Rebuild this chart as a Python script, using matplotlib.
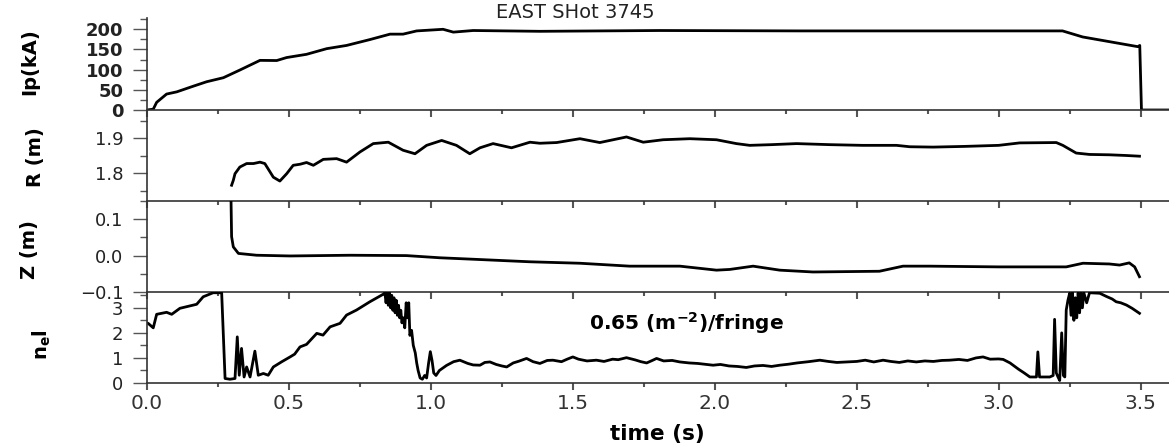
import matplotlib
matplotlib.use("Agg")
import matplotlib.pyplot as plt
from matplotlib.ticker import MultipleLocator

plt.rcParams['font.family'] = ['DejaVu Sans']

# ---------------- data ----------------
ip_t = [0.0, 0.022, 0.034, 0.069, 0.105, 0.163, 0.21, 0.269, 0.327, 0.398, 0.457, 0.492,
        0.562, 0.633, 0.703, 0.785, 0.856, 0.902, 0.95, 1.043, 1.079, 1.149, 1.384, 1.806,
        2.30, 3.0, 3.225, 3.296, 3.49, 3.497, 3.503, 3.6]
ip_v = [0, 2, 19, 39.5, 45, 59, 70, 80, 99, 123, 122.6, 130,
        138, 152, 160, 174.5, 188, 188, 196, 200, 193, 197, 195, 197,
        196, 196, 196, 181, 157, 160, 0, 0]

r_t = [0.298, 0.304, 0.31, 0.327, 0.351, 0.375, 0.398, 0.415, 0.445, 0.468, 0.492, 0.515,
       0.539, 0.562, 0.586, 0.621, 0.668, 0.703, 0.75, 0.797, 0.85, 0.902, 0.944, 0.985,
       1.038, 1.09, 1.137, 1.173, 1.219, 1.284, 1.349, 1.384, 1.443, 1.525, 1.595, 1.689,
       1.748, 1.818, 1.912, 2.006, 2.076, 2.123, 2.20, 2.288, 2.405, 2.52, 2.64, 2.687,
       2.769, 2.88, 3.0, 3.074, 3.203, 3.226, 3.273, 3.32, 3.39, 3.45, 3.496]
r_v = [1.766, 1.78, 1.799, 1.818, 1.828, 1.828, 1.832, 1.828, 1.789, 1.778, 1.799, 1.823,
       1.826, 1.831, 1.823, 1.84, 1.842, 1.832, 1.861, 1.885, 1.889, 1.866, 1.856, 1.88,
       1.894, 1.88, 1.856, 1.873, 1.885, 1.873, 1.889, 1.886, 1.888, 1.899, 1.888, 1.904,
       1.889, 1.896, 1.899, 1.896, 1.885, 1.88, 1.882, 1.885, 1.882, 1.88, 1.88, 1.876,
       1.875, 1.877, 1.88, 1.887, 1.888, 1.88, 1.858, 1.854, 1.853, 1.851, 1.849]

z_t = [0.295, 0.298, 0.304, 0.322, 0.386, 0.504, 0.715, 0.914, 1.032, 1.149, 1.349, 1.525,
       1.70, 1.877, 2.006, 2.053, 2.135, 2.229, 2.346, 2.58, 2.663, 2.757, 3.0, 3.238,
       3.297, 3.39, 3.426, 3.46, 3.479, 3.496]
z_v = [0.2, 0.052, 0.024, 0.006, 0.001, -0.001, 0.001, 0.0, -0.006, -0.01, -0.017, -0.021,
       -0.029, -0.029, -0.04, -0.038, -0.029, -0.04, -0.045, -0.043, -0.029, -0.029, -0.031, -0.031,
       -0.021, -0.023, -0.026, -0.02, -0.031, -0.058]

ne_t = [0.0, 0.005, 0.022, 0.034, 0.069, 0.087, 0.116, 0.175, 0.198, 0.233, 0.263, 0.275,
        0.292, 0.31, 0.318, 0.325, 0.333, 0.342, 0.351, 0.363, 0.38, 0.392, 0.41, 0.427,
        0.445, 0.475, 0.504, 0.52, 0.539, 0.562, 0.598, 0.62, 0.645, 0.68, 0.703, 0.738,
        0.785, 0.832,
        0.838, 0.842, 0.846, 0.850, 0.854, 0.858, 0.862, 0.866, 0.870, 0.874, 0.878, 0.882,
        0.886, 0.890, 0.894, 0.898, 0.903, 0.908, 0.913, 0.918, 0.922, 0.926, 0.932, 0.938,
        0.945, 0.950, 0.955, 0.962, 0.970, 0.978, 0.985, 0.992, 0.998, 1.004, 1.010, 1.018,
        1.030, 1.055, 1.08,
        1.102, 1.13, 1.149, 1.173, 1.19, 1.208, 1.23, 1.25, 1.267, 1.29, 1.31, 1.337,
        1.36, 1.384, 1.41, 1.43, 1.46, 1.48, 1.50, 1.52, 1.55, 1.583, 1.61, 1.64,
        1.66, 1.689, 1.72, 1.74, 1.76, 1.78, 1.795, 1.82, 1.85, 1.877, 1.91, 1.94,
        1.97, 1.994, 2.02, 2.05, 2.08, 2.111, 2.14, 2.17, 2.20, 2.229, 2.26, 2.29,
        2.33, 2.37, 2.40, 2.43, 2.464, 2.50, 2.53, 2.56, 2.593, 2.62, 2.65, 2.68,
        2.71, 2.74, 2.77, 2.80, 2.827, 2.86, 2.89, 2.92, 2.945, 2.97, 3.0, 3.016,
        3.04, 3.07, 3.09, 3.11, 3.133, 3.138, 3.144, 3.15, 3.18, 3.192, 3.197, 3.203,
        3.209, 3.215, 3.222, 3.228, 3.233, 3.238, 3.244, 3.25, 3.255, 3.26, 3.265, 3.27,
        3.275, 3.28, 3.285, 3.29, 3.295, 3.30, 3.31, 3.32, 3.356, 3.38, 3.40, 3.414,
        3.43, 3.45, 3.47, 3.496]
ne_v = [2.4, 2.37, 2.2, 2.74, 2.82, 2.74, 2.98, 3.14, 3.44, 3.6, 3.6, 0.18,
        0.15, 0.18, 1.84, 0.31, 1.38, 0.24, 0.64, 0.24, 1.27, 0.31, 0.38, 0.31,
        0.64, 0.85, 1.04, 1.15, 1.44, 1.54, 1.98, 1.91, 2.24, 2.38, 2.71, 2.91,
        3.24, 3.54,
        3.6, 3.2, 3.6, 3.1, 3.6, 3.0, 3.5, 2.9, 3.4, 2.8, 3.3, 2.7,
        3.1, 2.6, 2.9, 2.4, 2.6, 2.2, 3.2, 2.6, 3.2, 1.9, 2.1, 1.5,
        1.2, 0.8, 0.5, 0.2, 0.15, 0.3, 0.2, 0.8, 1.25, 0.9, 0.4, 0.3,
        0.5, 0.7, 0.85,
        0.91, 0.78, 0.72, 0.71, 0.82, 0.84, 0.74, 0.68, 0.64, 0.8, 0.87, 0.98,
        0.85, 0.78, 0.9, 0.91, 0.85, 0.95, 1.04, 0.95, 0.88, 0.91, 0.86, 0.95,
        0.93, 1.01, 0.92, 0.85, 0.8, 0.9, 0.98, 0.88, 0.9, 0.84, 0.8, 0.78,
        0.74, 0.71, 0.74, 0.68, 0.66, 0.62, 0.68, 0.7, 0.66, 0.71, 0.75, 0.8,
        0.85, 0.91, 0.86, 0.82, 0.84, 0.86, 0.91, 0.84, 0.91, 0.86, 0.82, 0.88,
        0.84, 0.88, 0.86, 0.9, 0.91, 0.94, 0.9, 1.0, 1.04, 0.95, 0.96, 0.94,
        0.8, 0.55, 0.4, 0.24, 0.24, 1.24, 0.24, 0.24, 0.24, 0.3, 2.54, 0.4,
        0.24, 0.1, 2.0, 0.3, 0.24, 2.91, 3.3, 3.58, 2.7, 3.6, 2.5, 3.4,
        2.6, 3.6, 2.8, 3.6, 3.0, 3.6, 3.2, 3.6, 3.58, 3.45, 3.35, 3.24,
        3.2, 3.11, 2.98, 2.78]

title = "EAST SHot 3745"
ylabels = ["Ip(kA)", "R (m)", "Z (m)", r"n$_\mathregular{e}$l"]
xticks = [0.0, 0.5, 1.0, 1.5, 2.0, 2.5, 3.0, 3.5]

# ---------------- figure ----------------
W, H = 1169, 448
fig = plt.figure(figsize=(W / 100, H / 100), dpi=100)

left = 147 / W
width = 1 - left
def ax_at(top_px, bot_px):
    return fig.add_axes([left, 1 - bot_px / H, width, (bot_px - top_px) / H])

ax1 = ax_at(18, 110)
ax2 = ax_at(110, 201)
ax3 = ax_at(201, 292)
ax4 = ax_at(292, 383)
axes = [ax1, ax2, ax3, ax4]

lw = 2.0
ax1.plot(ip_t, ip_v, color='black', lw=lw)
ax2.plot(r_t, r_v, color='black', lw=lw)
ax3.plot(z_t, z_v, color='black', lw=lw)
ax4.plot(ne_t, ne_v, color='black', lw=lw)

ax1.set_ylim(0, 228)
ax1.yaxis.set_major_locator(MultipleLocator(50))
ax1.yaxis.set_minor_locator(MultipleLocator(25))
ax2.set_ylim(1.721, 1.981)
ax2.set_yticks([1.8, 1.9])
ax2.yaxis.set_minor_locator(MultipleLocator(0.05))
ax3.set_ylim(-0.1, 0.15)
ax3.set_yticks([-0.1, 0.0, 0.1])
ax3.yaxis.set_minor_locator(MultipleLocator(0.05))
ax4.set_ylim(0, 3.63)
ax4.set_yticks([0, 1, 2, 3])
ax4.yaxis.set_minor_locator(MultipleLocator(0.5))

spine_c = '#333333'
for ax in axes:
    ax.set_xlim(0, 3.6)
    ax.set_xticks(xticks)
    ax.xaxis.set_minor_locator(MultipleLocator(0.25))
    ax.spines['top'].set_visible(False)
    ax.spines['right'].set_visible(False)
    for s in ('left', 'bottom'):
        ax.spines[s].set_color(spine_c)
        ax.spines[s].set_linewidth(1.2)
    ax.tick_params(axis='x', which='major', direction='out', length=5, width=1.5,
                   color='#555555', labelsize=14.5, labelcolor='#333333', pad=3)
    ax.tick_params(axis='x', which='minor', direction='out', length=3, width=1.5,
                   color='#555555')
    ax.tick_params(axis='y', which='major', direction='out', length=10, width=1.0,
                   color='#555555', labelsize=13, labelcolor='#222222', pad=7)
    ax.tick_params(axis='y', which='minor', direction='out', length=5, width=1.0,
                   color='#555555')
    ax.patch.set_alpha(0)

for ax in axes[:3]:
    ax.tick_params(axis='x', labelbottom=False)

for lab in ax1.get_yticklabels():
    lab.set_fontweight('bold')

ax4.set_xticklabels([f"{v:.1f}" for v in xticks])

ax4.text(1.90, 2.4, r"0.65 (m$^{\mathbf{-2}}$)/fringe", fontsize=14.5, fontweight='bold',
         ha='center', va='center')

fig.text(575 / W, 1 - 12 / H, title, fontsize=14, ha='center', va='center', color='#222222')
fig.text(657 / W, 1 - 434 / H, "time (s)", fontsize=15.5, fontweight='bold',
         ha='center', va='center')

label_pos = [(30, 62), (36, 157), (30, 250), (42, 345)]
for (px, py), txt in zip(label_pos, ylabels):
    fig.text(px / W, 1 - py / H, txt, rotation=90, fontsize=14, fontweight='bold',
             ha='center', va='center')

fig.savefig("out.png", dpi=100)
